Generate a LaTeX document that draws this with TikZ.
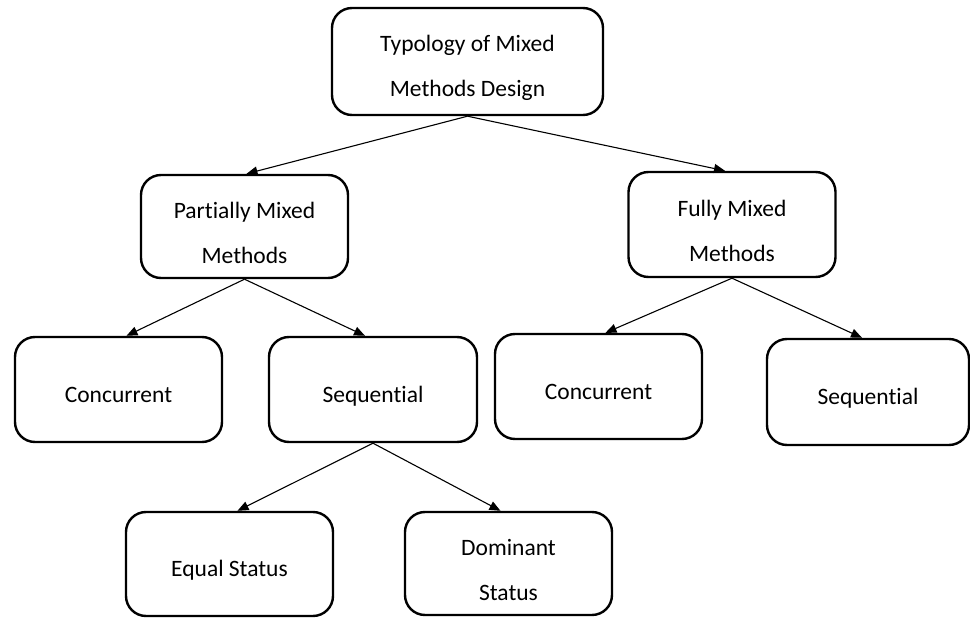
\documentclass[tikz,border=0pt]{standalone}
\usepackage{fontspec}
\setmainfont{Carlito}[Ligatures={NoCommon}]
\usetikzlibrary{arrows.meta}
% strut that lowers the first line of a two-line label
\newcommand{\firstline}{\rule{0pt}{30pt}}
\begin{document}
\begin{tikzpicture}[x=1pt,y=-1pt,
  box/.style={draw=black,line width=2.4pt,rounded corners=20pt,align=center,
    font=\fontsize{23.5}{45}\selectfont,inner sep=0pt},
  onebox/.style={box,text height=30pt,text depth=5pt},
  link/.style={line width=1.1pt,-{Triangle[length=11pt,width=9pt]}}]
\useasboundingbox (0,0) rectangle (970,618);
% top level
\node[box,minimum width=271pt,minimum height=107pt] (typ) at (467.5,61.5) {\firstline Typology of Mixed\\Methods Design};
% second level
\node[box,minimum width=207pt,minimum height=103pt] (pmm) at (244.5,226.5) {\firstline Partially Mixed\\Methods};
\node[box,minimum width=207pt,minimum height=105pt] (fmm) at (732,224.5) {\firstline Fully Mixed\\Methods};
% third level
\node[onebox,minimum width=207pt,minimum height=105pt] (pconc) at (118.5,389.5) {Concurrent};
\node[onebox,minimum width=208pt,minimum height=105pt] (pseq) at (373,389.5) {Sequential};
\node[onebox,minimum width=207pt,minimum height=105pt] (fconc) at (598.5,386.5) {Concurrent};
\node[onebox,minimum width=202pt,minimum height=106pt] (fseq) at (868,392) {Sequential};
% fourth level
\node[onebox,minimum width=207pt,minimum height=104pt] (equal) at (229.5,564) {Equal Status};
\node[box,minimum width=207pt,minimum height=103pt] (dom) at (508.5,563.5) {\firstline Dominant\\Status};
% connectors
\draw[link] (typ.south) -- ([xshift=2pt]pmm.north);
\draw[link] (typ.south) -- ([xshift=-7pt]fmm.north);
\draw[link] (pmm.south) -- ([xshift=8pt]pconc.north);
\draw[link] (pmm.south) -- ([xshift=-8pt]pseq.north);
\draw[link] (fmm.south) -- ([xshift=7pt]fconc.north);
\draw[link] (fmm.south) -- ([xshift=-6pt]fseq.north);
\draw[link] (pseq.south) -- ([xshift=8pt]equal.north);
\draw[link] (pseq.south) -- ([xshift=-8pt]dom.north);
\end{tikzpicture}
\end{document}
